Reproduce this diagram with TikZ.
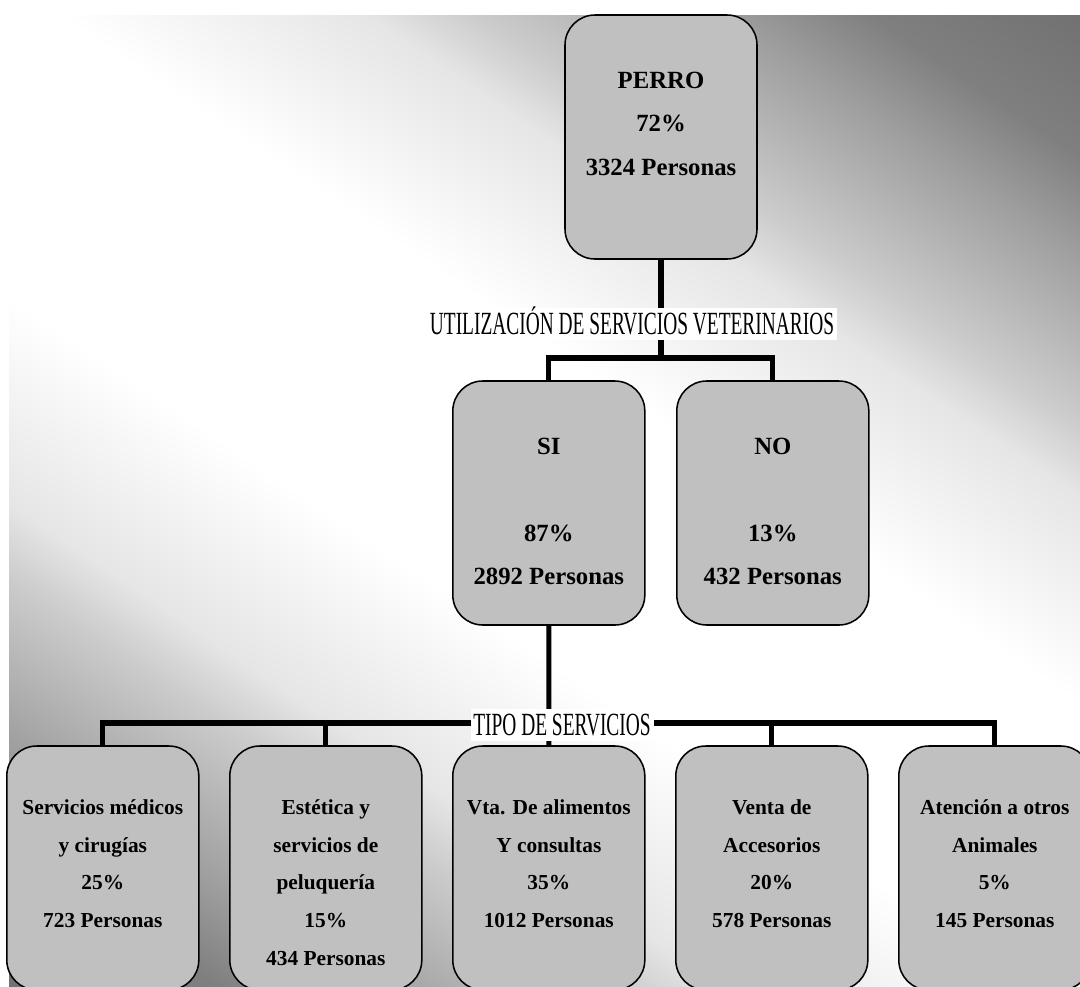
\documentclass[tikz,border=0pt]{standalone}
\usepackage{fontspec}
\setmainfont{Liberation Serif}
\newfontfamily\narrowfont[FakeStretch=0.6]{Liberation Serif}
\usepackage{xcolor}
\usepackage{tikz}
\definecolor{boxgray}{HTML}{C0C0C0}
\pgfdeclareverticalshading{bgshade}{100bp}{color(0bp)=(black!56); color(14.7bp)=(black!56); color(21bp)=(black!50); color(25bp)=(black!38); color(32bp)=(black!20); color(35bp)=(black!10); color(43.5bp)=(white); color(56.5bp)=(white); color(65bp)=(black!10); color(68bp)=(black!20); color(75bp)=(black!38); color(79bp)=(black!50); color(85.3bp)=(black!56); color(100bp)=(black!56)}
\tikzstyle{bigbox} = [rectangle, rounded corners=0.75cm, minimum width=4.8cm, minimum height=6.1cm, inner sep=0pt, draw=black, line width=1.1pt, fill=boxgray, font=\bfseries\fontsize{17.6}{31}\selectfont, execute at begin node={\begin{minipage}[b][6.1cm][t]{4.8cm}\centering\vspace*{1.42cm}}, execute at end node={\end{minipage}}]
\tikzstyle{smallbox} = [rectangle, rounded corners=0.75cm, minimum width=4.8cm, minimum height=6.1cm, inner sep=0pt, draw=black, line width=1.1pt, fill=boxgray, font=\bfseries\fontsize{15.2}{27}\selectfont, execute at begin node={\begin{minipage}[b][6.1cm][t]{4.8cm}\centering\vspace*{1.33cm}}, execute at end node={\end{minipage}}]
\tikzstyle{tag} = [rectangle, fill=white, inner xsep=2pt, inner ysep=0pt, minimum height=0.8cm, text height=15.5pt, text depth=0pt, font=\narrowfont\fontsize{23}{23}\selectfont]
\tikzstyle{conn} = [line width=3.6pt]

\begin{document}
\begin{tikzpicture}
        \useasboundingbox (0,0) rectangle (27,-24.65);
        \clip (0,0) rectangle (27,-24.65);
        \shade[shading=bgshade, shading angle=-34] (0.225,-0.375) rectangle (27,-24.65);

        \node[bigbox] (perro) at (16.525,-3.425) {PERRO\\ 72\%\\ 3324 Personas};
        \node[bigbox] (si) at (13.72,-12.575) {SI\\[31pt] 87\%\\ 2892 Personas};
        \node[bigbox,right of=si,node distance=5.6cm] (no) {NO\\[31pt] 13\%\\ 432 Personas};

        \node[smallbox] (medicos) at (2.57,-21.7) {Servicios médicos\\ y cirugías\\ 25\%\\ 723 Personas};
        \node[smallbox,right of=medicos,node distance=5.575cm] (estetica) {Estética y\\ servicios de\\ peluquería\\ 15\%\\ 434 Personas};
        \node[smallbox,right of=estetica,node distance=5.575cm] (alimentos) {Vta. De alimentos\\ Y consultas\\ 35\%\\ 1012 Personas};
        \node[smallbox,right of=alimentos,node distance=5.575cm] (accesorios) {Venta de\\ Accesorios\\ 20\%\\ 578 Personas};
        \node[smallbox,right of=accesorios,node distance=5.575cm] (otros) {Atención a otros\\ Animales\\ 5\%\\ 145 Personas};

        \coordinate (split1) at (16.525,-8.95);
        \coordinate (split2) at (13.72,-18.075);

        \draw [conn] (perro.south) -- (split1);
        \draw [conn] (si.north) |- (split1) -| (no.north);
        \draw [conn] (si.south) -- (alimentos.north);
        \draw [conn] (medicos.north) |- (split2) -| (otros.north);
        \draw [conn] (estetica.north) -- (estetica.north |- split2);
        \draw [conn] (accesorios.north) -- (accesorios.north |- split2);

        \node[tag] (uso) at (15.8,-8.1) {UTILIZACIÓN DE SERVICIOS VETERINARIOS};
        \node[tag] (tipo) at (14.05,-18.125) {TIPO DE SERVICIOS};
    \end{tikzpicture}
\end{document}
